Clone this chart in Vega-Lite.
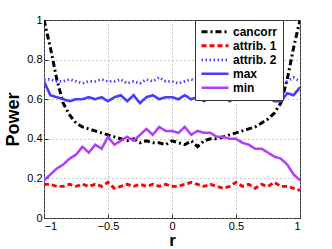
{
  "$schema": "https://vega.github.io/schema/vega-lite/v6.json",
  "width": 256,
  "height": 198,
  "autosize": "none",
  "padding": {"left": 44, "top": 20, "right": 32, "bottom": 31},
  "background": "white",
  "config": {
    "font": "Liberation Sans",
    "view": {"stroke": "#333333", "strokeWidth": 1},
    "axis": {
      "labelFont": "Liberation Sans", "labelFontSize": 11, "labelColor": "#000000",
      "titleFont": "Liberation Sans", "titleFontWeight": "bold", "titleColor": "#000000",
      "domain": false, "tickColor": "#333333", "tickSize": -4,
      "grid": true, "gridColor": "#999999", "gridDash": [1, 3], "gridWidth": 1
    },
    "legend": {
      "symbolType": "stroke", "symbolSize": 729, "labelFont": "Liberation Sans", "labelFontSize": 12, "labelFontWeight": "bold", "labelColor": "#000000",
      "rowPadding": 0, "clipHeight": 13.5, "labelOffset": 3, "padding": 5, "strokeColor": "#333333", "fillColor": "white"
    }
  },
  "data": {"values": [
    {"r": -1.00, "cancorr": 1.00, "attrib1": 0.17, "attrib2": 0.70, "max": 0.69, "min": 0.19},
    {"r": -0.95, "cancorr": 0.86, "attrib1": 0.17, "attrib2": 0.70, "max": 0.62, "min": 0.22},
    {"r": -0.90, "cancorr": 0.70, "attrib1": 0.16, "attrib2": 0.69, "max": 0.61, "min": 0.25},
    {"r": -0.85, "cancorr": 0.58, "attrib1": 0.16, "attrib2": 0.69, "max": 0.60, "min": 0.27},
    {"r": -0.80, "cancorr": 0.52, "attrib1": 0.17, "attrib2": 0.70, "max": 0.59, "min": 0.30},
    {"r": -0.75, "cancorr": 0.48, "attrib1": 0.16, "attrib2": 0.69, "max": 0.60, "min": 0.32},
    {"r": -0.70, "cancorr": 0.46, "attrib1": 0.17, "attrib2": 0.68, "max": 0.60, "min": 0.36},
    {"r": -0.65, "cancorr": 0.45, "attrib1": 0.16, "attrib2": 0.69, "max": 0.61, "min": 0.33},
    {"r": -0.60, "cancorr": 0.44, "attrib1": 0.17, "attrib2": 0.69, "max": 0.60, "min": 0.37},
    {"r": -0.55, "cancorr": 0.43, "attrib1": 0.16, "attrib2": 0.70, "max": 0.61, "min": 0.35},
    {"r": -0.50, "cancorr": 0.42, "attrib1": 0.18, "attrib2": 0.69, "max": 0.59, "min": 0.41},
    {"r": -0.45, "cancorr": 0.41, "attrib1": 0.15, "attrib2": 0.69, "max": 0.61, "min": 0.37},
    {"r": -0.40, "cancorr": 0.40, "attrib1": 0.16, "attrib2": 0.70, "max": 0.62, "min": 0.39},
    {"r": -0.35, "cancorr": 0.39, "attrib1": 0.17, "attrib2": 0.68, "max": 0.59, "min": 0.41},
    {"r": -0.30, "cancorr": 0.40, "attrib1": 0.16, "attrib2": 0.69, "max": 0.62, "min": 0.39},
    {"r": -0.25, "cancorr": 0.38, "attrib1": 0.17, "attrib2": 0.68, "max": 0.58, "min": 0.42},
    {"r": -0.20, "cancorr": 0.39, "attrib1": 0.16, "attrib2": 0.70, "max": 0.61, "min": 0.45},
    {"r": -0.15, "cancorr": 0.38, "attrib1": 0.17, "attrib2": 0.69, "max": 0.62, "min": 0.42},
    {"r": -0.10, "cancorr": 0.38, "attrib1": 0.16, "attrib2": 0.71, "max": 0.60, "min": 0.46},
    {"r": -0.05, "cancorr": 0.37, "attrib1": 0.17, "attrib2": 0.69, "max": 0.61, "min": 0.44},
    {"r": 0.00, "cancorr": 0.39, "attrib1": 0.16, "attrib2": 0.69, "max": 0.61, "min": 0.44},
    {"r": 0.05, "cancorr": 0.38, "attrib1": 0.16, "attrib2": 0.68, "max": 0.60, "min": 0.43},
    {"r": 0.10, "cancorr": 0.37, "attrib1": 0.17, "attrib2": 0.69, "max": 0.62, "min": 0.46},
    {"r": 0.15, "cancorr": 0.39, "attrib1": 0.18, "attrib2": 0.70, "max": 0.60, "min": 0.42},
    {"r": 0.20, "cancorr": 0.36, "attrib1": 0.17, "attrib2": 0.69, "max": 0.61, "min": 0.44},
    {"r": 0.25, "cancorr": 0.39, "attrib1": 0.16, "attrib2": 0.70, "max": 0.59, "min": 0.43},
    {"r": 0.30, "cancorr": 0.40, "attrib1": 0.17, "attrib2": 0.69, "max": 0.61, "min": 0.43},
    {"r": 0.35, "cancorr": 0.40, "attrib1": 0.16, "attrib2": 0.70, "max": 0.60, "min": 0.41},
    {"r": 0.40, "cancorr": 0.41, "attrib1": 0.15, "attrib2": 0.69, "max": 0.62, "min": 0.41},
    {"r": 0.45, "cancorr": 0.42, "attrib1": 0.16, "attrib2": 0.70, "max": 0.59, "min": 0.40},
    {"r": 0.50, "cancorr": 0.43, "attrib1": 0.18, "attrib2": 0.69, "max": 0.61, "min": 0.40},
    {"r": 0.55, "cancorr": 0.44, "attrib1": 0.16, "attrib2": 0.68, "max": 0.60, "min": 0.38},
    {"r": 0.60, "cancorr": 0.45, "attrib1": 0.17, "attrib2": 0.69, "max": 0.61, "min": 0.37},
    {"r": 0.65, "cancorr": 0.46, "attrib1": 0.15, "attrib2": 0.70, "max": 0.60, "min": 0.35},
    {"r": 0.70, "cancorr": 0.48, "attrib1": 0.17, "attrib2": 0.69, "max": 0.60, "min": 0.35},
    {"r": 0.75, "cancorr": 0.50, "attrib1": 0.16, "attrib2": 0.69, "max": 0.61, "min": 0.33},
    {"r": 0.80, "cancorr": 0.53, "attrib1": 0.18, "attrib2": 0.70, "max": 0.59, "min": 0.31},
    {"r": 0.85, "cancorr": 0.58, "attrib1": 0.16, "attrib2": 0.68, "max": 0.59, "min": 0.30},
    {"r": 0.90, "cancorr": 0.70, "attrib1": 0.16, "attrib2": 0.69, "max": 0.63, "min": 0.27},
    {"r": 0.95, "cancorr": 0.86, "attrib1": 0.15, "attrib2": 0.71, "max": 0.62, "min": 0.22},
    {"r": 1.00, "cancorr": 1.00, "attrib1": 0.14, "attrib2": 0.69, "max": 0.66, "min": 0.19}
  ]},
  "transform": [
    {"fold": ["cancorr", "attrib1", "attrib2", "max", "min"], "as": ["series", "power"]}
  ],
  "mark": {"type": "line", "clip": true},
  "encoding": {
    "x": {
      "field": "r", "type": "quantitative",
      "scale": {"domain": [-1, 1], "nice": false},
      "axis": {"values": [-1, -0.5, 0, 0.5, 1], "format": "~g", "title": "r", "titleFontSize": 17, "titlePadding": 1, "labelPadding": 6}
    },
    "y": {
      "field": "power", "type": "quantitative",
      "scale": {"domain": [0, 1], "nice": false},
      "axis": {"values": [0, 0.2, 0.4, 0.6, 0.8, 1], "format": "~g", "title": "Power", "titleFontSize": 18, "titlePadding": 4, "labelPadding": 6}
    },
    "color": {
      "field": "series", "type": "nominal",
      "scale": {"domain": ["cancorr", "attrib1", "attrib2", "max", "min"], "range": ["#000000", "#ff0000", "#4a46ff", "#4a3cff", "#b23cff"]},
      "legend": {
        "title": null, "orient": "none", "legendX": 151, "legendY": 0,
        "labelExpr": "datum.label == 'attrib1' ? 'attrib. 1' : datum.label == 'attrib2' ? 'attrib. 2' : datum.label"
      }
    },
    "strokeDash": {
      "field": "series", "type": "nominal",
      "scale": {"domain": ["cancorr", "attrib1", "attrib2", "max", "min"], "range": [[6, 3, 2, 3], [5, 3], [1.5, 2.5], [1, 0], [1, 0]]},
      "legend": {
        "title": null, "orient": "none", "legendX": 151, "legendY": 0,
        "labelExpr": "datum.label == 'attrib1' ? 'attrib. 1' : datum.label == 'attrib2' ? 'attrib. 2' : datum.label"
      }
    },
    "strokeWidth": {
      "field": "series", "type": "nominal",
      "scale": {"domain": ["cancorr", "attrib1", "attrib2", "max", "min"], "range": [3, 2.5, 1.2, 4, 1.3]},
      "legend": {
        "title": null, "orient": "none", "legendX": 151, "legendY": 0,
        "labelExpr": "datum.label == 'attrib1' ? 'attrib. 1' : datum.label == 'attrib2' ? 'attrib. 2' : datum.label"
      }
    }
  }
}
